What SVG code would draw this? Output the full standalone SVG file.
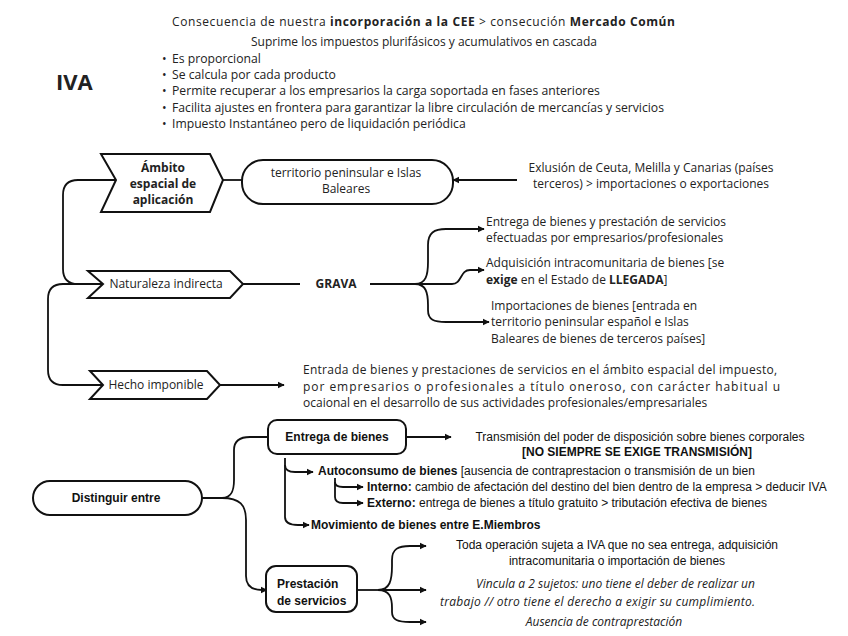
<svg xmlns="http://www.w3.org/2000/svg" width="848" height="636" viewBox="0 0 848 636">
<defs>
<style>
.o{font-family:"Open Sans","Noto Sans",sans-serif;font-size:12px;fill:#222}
.a{font-family:"Liberation Sans",Arial,sans-serif;font-size:12px;fill:#111}
.b{font-weight:bold}
.i{font-style:italic}
.m{text-anchor:middle}
.e{text-anchor:end}
.bl{font-size:12.2px}
.n{fill:#fff;stroke:#111;stroke-width:2}
.c{fill:none;stroke:#111;stroke-width:1.8}
</style>
<marker id="ar" viewBox="0 0 10 10" refX="9" refY="5" markerWidth="4" markerHeight="4" orient="auto" markerUnits="strokeWidth">
<path d="M0,0 L10,5 L0,10 z" fill="#111"/>
</marker>
</defs>
<rect width="848" height="636" fill="#fff"/>

<g id="header">
<text class="o" x="172" y="26" textLength="503" lengthAdjust="spacing">Consecuencia de nuestra <tspan class="b">incorporación a la CEE</tspan> &gt; consecución <tspan class="b">Mercado Común</tspan></text>
<text class="o m" x="424" y="46">Suprime los impuestos plurifásicos y acumulativos en cascada</text>
<text class="o bl" x="162" y="63">•</text>
<text class="o bl" x="162" y="79">•</text>
<text class="o bl" x="162" y="95">•</text>
<text class="o bl" x="162" y="112">•</text>
<text class="o bl" x="162" y="128">•</text>
<text class="o bl" x="172" y="63">Es proporcional</text>
<text class="o bl" x="172" y="79">Se calcula por cada producto</text>
<text class="o bl" x="172" y="95">Permite recuperar a los empresarios la carga soportada en fases anteriores</text>
<text class="o bl" x="172" y="112">Facilita ajustes en frontera para garantizar la libre circulación de mercancías y servicios</text>
<text class="o bl" x="172" y="128">Impuesto Instantáneo pero de liquidación periódica</text>
<text class="o b" x="56" y="90" style="font-size:22px">IVA</text>
</g>

<g id="connectors">
<path class="c" d="M223,180 H242"/>
<path class="c" d="M517,180 H453" marker-end="url(#ar)"/>
<path class="c" d="M116,180 H78 Q63,180 63,195 V269 Q63,284 78,284 H103"/>
<path class="c" d="M103,284 H63 Q48,284 48,299 V370 Q48,385 63,385 H103"/>
<path class="c" d="M243,284 H300"/>
<path class="c" d="M370,284 H415"/>
<path class="c" d="M415,284 C426,284 428,275 428,262 V245 C428,233 434,229 446,229 H484" marker-end="url(#ar)"/>
<path class="c" d="M415,284 H452 C462,284 460,270 470,270 H484" marker-end="url(#ar)"/>
<path class="c" d="M415,284 C426,284 428,293 428,305 V310 C428,320 434,322 446,322 H489" marker-end="url(#ar)"/>
<path class="c" d="M220,385 H284" marker-end="url(#ar)"/>
<path class="c" d="M202,498 H222 C232,498 234,490 234,480 V450 C234,441 240,437 250,437 H268"/>
<path class="c" d="M222,498 C240,498 246,505 246,520 V576 C246,586 252,590 262,590 H267" marker-end="url(#ar)"/>
<path class="c" d="M406,437 H451" marker-end="url(#ar)"/>
<path class="c" d="M285,458 V465 C285,470 288,472 295,472 H313" marker-end="url(#ar)"/>
<path class="c" d="M285,465 V517 C285,523 290,525 298,525 H309" marker-end="url(#ar)"/>
<path class="c" d="M335,478 V482 C335,486 338,487 343,487 H363" marker-end="url(#ar)"/>
<path class="c" d="M335,482 V497 C335,501 338,503 343,503 H363" marker-end="url(#ar)"/>
<path class="c" d="M357,590 H378"/>
<path class="c" d="M378,590 C390,590 392,580 392,566 V560 C392,549 398,546 410,546 H426" marker-end="url(#ar)"/>
<path class="c" d="M378,590 H426" marker-end="url(#ar)"/>
<path class="c" d="M378,590 C390,590 392,598 392,608 V612 C392,620 398,622 410,622 H426" marker-end="url(#ar)"/>
</g>

<g id="ambito">
<polygon class="n" points="101,154 210,154 223,180 210,212 101,212 116,180"/>
<text class="o b m" x="163" y="172">Ámbito</text>
<text class="o b m" x="163" y="188">espacial de</text>
<text class="o b m" x="163" y="204">aplicación</text>
</g>

<g id="territorio">
<rect class="n" x="242" y="160" width="211" height="44" rx="21"/>
<text class="o m" x="346" y="177">territorio peninsular e Islas</text>
<text class="o m" x="346" y="193">Baleares</text>
</g>

<g id="exclusion">
<text class="o m" x="651" y="172">Exlusión de Ceuta, Melilla y Canarias (países</text>
<text class="o m" x="651" y="188">terceros) &gt; importaciones o exportaciones</text>
</g>

<g id="naturaleza">
<polygon class="n" points="88,271 230,271 243,284 230,298 88,298 103,284"/>
<text class="o m" x="166" y="288">Naturaleza indirecta</text>
</g>

<g id="grava">
<text class="o b m" x="336" y="288">GRAVA</text>
</g>

<g id="grava-items">
<text class="o" x="486" y="226">Entrega de bienes y prestación de servicios</text>
<text class="o" x="486" y="242">efectuadas por empresarios/profesionales</text>
<text class="o" x="486" y="267">Adquisición intracomunitaria de bienes [se</text>
<text class="o" x="486" y="284"><tspan class="b">exige</tspan> en el Estado de <tspan class="b">LLEGADA</tspan>]</text>
<text class="o" x="491" y="310">Importaciones de bienes [entrada en</text>
<text class="o" x="491" y="326">territorio peninsular español e Islas</text>
<text class="o" x="491" y="343">Baleares de bienes de terceros países]</text>
</g>

<g id="hecho">
<polygon class="n" points="90,371 207,371 220,385 207,399 90,399 103,385"/>
<text class="o m" x="156" y="389">Hecho imponible</text>
</g>

<g id="hecho-text">
<text class="o" x="303" y="374" textLength="474" lengthAdjust="spacing">Entrada de bienes y prestaciones de servicios en el ámbito espacial del impuesto,</text>
<text class="o" x="303" y="391" textLength="477" lengthAdjust="spacing">por empresarios o profesionales a título oneroso, con carácter habitual u</text>
<text class="o" x="303" y="407">ocaional en el desarrollo de sus actividades profesionales/empresariales</text>
</g>

<g id="distinguir">
<rect class="n" x="33" y="481" width="169" height="34" rx="17"/>
<text class="a b m" x="116" y="502">Distinguir entre</text>
</g>

<g id="entrega">
<rect class="n" x="268" y="420" width="138" height="34" rx="9"/>
<text class="a b m" x="337" y="441">Entrega de bienes</text>
</g>

<g id="entrega-items">
<text class="a m" x="640" y="441">Transmisión del poder de disposición sobre bienes corporales</text>
<text class="a b m" x="637" y="456">[NO SIEMPRE SE EXIGE TRANSMISIÓN]</text>
<text class="a" x="318" y="475"><tspan class="b">Autoconsumo de bienes</tspan> [ausencia de contraprestacion o transmisión de un bien</text>
<text class="a" x="367" y="491"><tspan class="b">Interno:</tspan> cambio de afectación del destino del bien dentro de la empresa &gt; deducir IVA</text>
<text class="a" x="367" y="507"><tspan class="b">Externo:</tspan> entrega de bienes a título gratuito &gt; tributación efectiva de bienes</text>
<text class="a b" x="311" y="529">Movimiento de bienes entre E.Miembros</text>
</g>

<g id="prestacion">
<rect class="n" x="266" y="566" width="91" height="46" rx="10"/>
<text class="a b" x="277" y="588">Prestación</text>
<text class="a b" x="277" y="605">de servicios</text>
</g>

<g id="prestacion-items">
<text class="a m" x="617" y="549">Toda operación sujeta a IVA que no sea entrega, adquisición</text>
<text class="a m" x="617" y="565">intracomunitaria o importación de bienes</text>
<text class="o i e" x="755" y="588" textLength="279" lengthAdjust="spacing">Vincula a 2 sujetos: uno tiene el deber de realizar un</text>
<text class="o i e" x="755" y="606" textLength="315" lengthAdjust="spacing">trabajo // otro tiene el derecho a exigir su cumplimiento.</text>
<text class="o i m" x="604" y="626">Ausencia de contraprestación</text>
</g>
</svg>
